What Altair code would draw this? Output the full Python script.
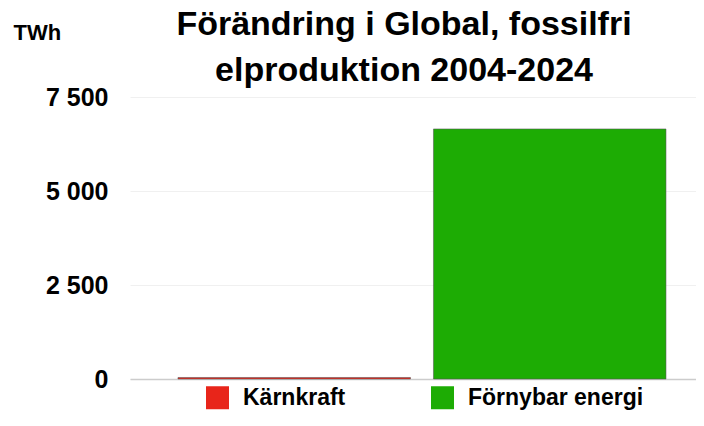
import altair as alt
import pandas as pd

categories = ["Kärnkraft", "Förnybar energi"]
values = [40, 6650]
colors = ["#e8251a", "#1dac04"]
y_ticks = [0, 2500, 5000, 7500]
title_lines = ["Förändring i Global, fossilfri", "elproduktion 2004-2024"]

df = pd.DataFrame({"kategori": categories, "TWh": values})

FONT = "Liberation Sans"

chart = alt.Chart(df).mark_bar(
    stroke="#555555", strokeWidth=1, strokeOpacity=0.55
).encode(
    x=alt.X("kategori:N", sort=categories,
            scale=alt.Scale(paddingInner=0.09, paddingOuter=0.1526, align=0.615),
            axis=alt.Axis(labels=False, ticks=False, title=None, domain=True,
                          domainColor="#cccccc", domainWidth=1.5)),
    y=alt.Y("TWh:Q", scale=alt.Scale(domain=[0, 7500], nice=False),
            axis=alt.Axis(values=y_ticks, title="TWh", titleAngle=0,
                          titleAlign="left", titleBaseline="alphabetic",
                          titleX=-117, titleY=-58, titleFont=FONT,
                          titleFontSize=22, titleFontWeight="bold", titleColor="#000",
                          labelExpr="replace(format(datum.value, ',d'), ',', ' ')",
                          labelFont=FONT, labelFontSize=25, labelFontWeight="bold",
                          labelColor="#000", labelPadding=22, ticks=False,
                          domain=False, gridColor="#f0f0f0", gridWidth=1)),
    color=alt.Color("kategori:N", sort=categories,
                    scale=alt.Scale(domain=categories, range=colors),
                    legend=alt.Legend(title=None, orient="none", legendX=76, legendY=289,
                                      direction="horizontal", symbolType="square",
                                      symbolSize=529, symbolStrokeWidth=0,
                                      symbolOpacity=1, labelLimit=400,
                                      labelFont=FONT, labelFontSize=23,
                                      labelFontWeight="bold", labelColor="#000",
                                      labelOffset=14, columnPadding=85)),
).properties(
    width=566,
    height=282,
    autosize=alt.AutoSizeParams(type="none"),
    padding={"left": 122, "top": 89, "right": 0, "bottom": 40},
    title=alt.TitleParams(text=title_lines, font=FONT, fontSize=34,
                          fontWeight="bold", color="#000", anchor="middle",
                          dx=-9, dy=79, offset=12, lineHeight=46),
).configure_view(stroke=None)

chart.save("out.html", embed_options={"renderer": "svg", "actions": False})
